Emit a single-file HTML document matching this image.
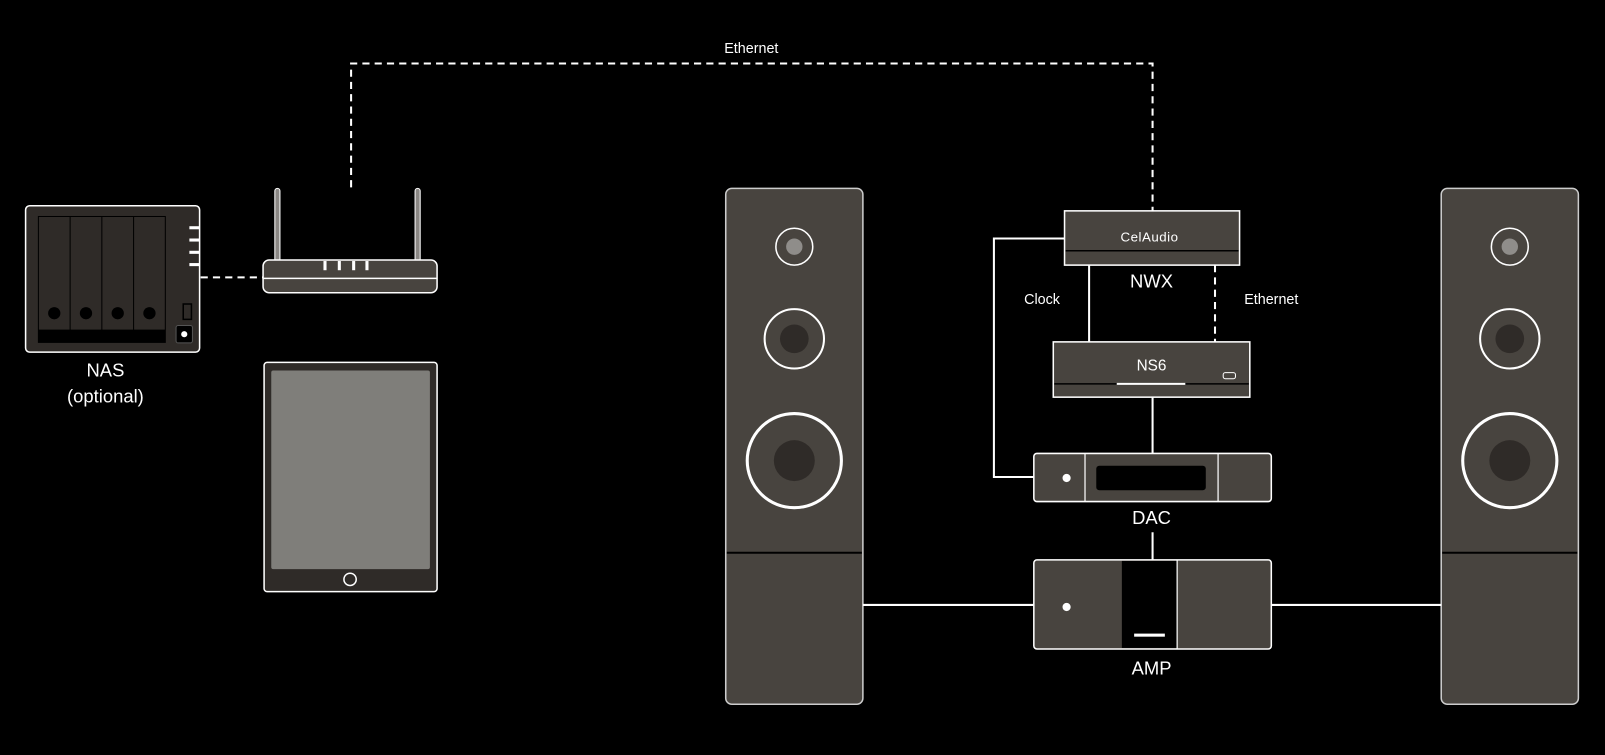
<!DOCTYPE html>
<html><head><meta charset="utf-8"><style>
html,body{margin:0;padding:0;background:#000;width:1605px;height:755px;overflow:hidden}
svg{display:block}
text{font-family:"Liberation Sans",sans-serif;fill:#fff}
</style></head><body>
<svg width="1605" height="755" viewBox="0 0 1568 737.6" xmlns="http://www.w3.org/2000/svg">
<rect width="1568" height="737.6" fill="#000"/>
<!-- Ethernet top dashed -->
<text x="734" y="52" font-size="14" text-anchor="middle">Ethernet</text>
<polyline points="343,183 343,62 1126,62 1126,206" fill="none" stroke="#fff" stroke-width="2" stroke-dasharray="7,5"/>
<!-- NAS to router -->
<line x1="196" y1="271" x2="257" y2="271" stroke="#fff" stroke-width="2" stroke-dasharray="7,5"/>
<!-- Router -->
<rect x="268.5" y="184" width="5" height="74" rx="2.5" fill="#8a8784" stroke="#fff" stroke-width="1"/>
<rect x="405.5" y="184" width="5" height="74" rx="2.5" fill="#8a8784" stroke="#fff" stroke-width="1"/>
<rect x="257" y="254" width="170" height="32" rx="6" fill="#48443f" stroke="#fff" stroke-width="1.5"/>
<line x1="257" y1="272" x2="427" y2="272" stroke="#fff" stroke-width="1.5"/>
<rect x="316" y="255" width="3" height="9" fill="#fff"/>
<rect x="330" y="255" width="3" height="9" fill="#fff"/>
<rect x="344" y="255" width="3" height="9" fill="#fff"/>
<rect x="357" y="255" width="3" height="9" fill="#fff"/>
<!-- NAS -->
<rect x="25" y="201" width="170" height="143" rx="4" fill="#2f2b28" stroke="#fff" stroke-width="1.5"/>
<rect x="37" y="211" width="125" height="124" fill="#000"/>
<rect x="38" y="212" width="30" height="110" fill="#2f2b28"/>
<rect x="69" y="212" width="30" height="110" fill="#2f2b28"/>
<rect x="100" y="212" width="30" height="110" fill="#2f2b28"/>
<rect x="131" y="212" width="30" height="110" fill="#2f2b28"/>
<circle cx="53" cy="306" r="6" fill="#000"/><circle cx="84" cy="306" r="6" fill="#000"/>
<circle cx="115" cy="306" r="6" fill="#000"/><circle cx="146" cy="306" r="6" fill="#000"/>
<rect x="185" y="221" width="10" height="3" fill="#fff"/><rect x="185" y="233" width="10" height="3" fill="#fff"/>
<rect x="185" y="245" width="10" height="3" fill="#fff"/><rect x="185" y="257" width="10" height="3" fill="#fff"/>
<rect x="179" y="297" width="8" height="15" fill="#2f2b28" stroke="#000" stroke-width="1.5"/>
<rect x="172" y="318" width="16" height="17" rx="2" fill="#000" stroke="#555" stroke-width="1"/>
<circle cx="180" cy="326.5" r="3" fill="#fff"/>
<text x="103" y="368" font-size="18" text-anchor="middle">NAS</text>
<text x="103" y="393" font-size="18" text-anchor="middle">(optional)</text>
<!-- Tablet -->
<rect x="258" y="354" width="169" height="224" rx="3" fill="#2f2b28" stroke="#fff" stroke-width="1.5"/>
<rect x="265" y="362" width="155" height="194" rx="2" fill="#7f7e7a"/>
<circle cx="342" cy="566" r="6" fill="none" stroke="#fff" stroke-width="1.5"/>
<!-- Speakers -->
<g id="spk">
<rect x="709" y="184" width="134" height="504" rx="6" fill="#48443f" stroke="#ccc" stroke-width="1.5"/>
<line x1="710" y1="540" x2="842" y2="540" stroke="#000" stroke-width="2"/>
<circle cx="776" cy="241" r="18" fill="none" stroke="#fff" stroke-width="1.5"/>
<circle cx="776" cy="241" r="8" fill="#8f8d8a"/>
<circle cx="776" cy="331" r="29" fill="none" stroke="#fff" stroke-width="2"/>
<circle cx="776" cy="331" r="14" fill="#2f2b28"/>
<circle cx="776" cy="450" r="46" fill="none" stroke="#fff" stroke-width="3"/>
<circle cx="776" cy="450" r="20" fill="#2f2b28"/>
</g>
<use href="#spk" transform="translate(699,0)"/>
<!-- speaker lines -->
<line x1="843" y1="591" x2="1010" y2="591" stroke="#fff" stroke-width="2"/>
<line x1="1242" y1="591" x2="1408" y2="591" stroke="#fff" stroke-width="2"/>
<!-- Clock -->
<polyline points="1040,233 971,233 971,466 1010,466" fill="none" stroke="#fff" stroke-width="2"/>
<text x="1018" y="297" font-size="14" text-anchor="middle">Clock</text>
<line x1="1064" y1="259" x2="1064" y2="334" stroke="#fff" stroke-width="2"/>
<line x1="1187" y1="259" x2="1187" y2="334" stroke="#fff" stroke-width="2" stroke-dasharray="7,5"/>
<text x="1242" y="297" font-size="14" text-anchor="middle">Ethernet</text>
<!-- NWX -->
<rect x="1040" y="206" width="171" height="53" fill="#48443f" stroke="#fff" stroke-width="1.5"/>
<line x1="1041" y1="245" x2="1210" y2="245" stroke="#000" stroke-width="1.5"/>
<text x="1123" y="236" font-size="13" text-anchor="middle" letter-spacing="0.5">CelAudio</text>
<text x="1125" y="281" font-size="18" text-anchor="middle">NWX</text>
<!-- NS6 -->
<rect x="1029" y="334" width="192" height="54" fill="#48443f" stroke="#fff" stroke-width="1.5"/>
<line x1="1030" y1="375" x2="1220" y2="375" stroke="#000" stroke-width="1.5"/>
<line x1="1091" y1="375" x2="1158" y2="375" stroke="#fff" stroke-width="2"/>
<text x="1125" y="362" font-size="15" text-anchor="middle">NS6</text>
<rect x="1195" y="364" width="12" height="6" rx="2" fill="none" stroke="#fff" stroke-width="1"/>
<line x1="1126" y1="388" x2="1126" y2="443" stroke="#fff" stroke-width="2"/>
<!-- DAC -->
<rect x="1010" y="443" width="232" height="47" rx="3" fill="#48443f" stroke="#fff" stroke-width="1.5"/>
<line x1="1060" y1="443" x2="1060" y2="490" stroke="#fff" stroke-width="1.2"/>
<line x1="1190" y1="443" x2="1190" y2="490" stroke="#fff" stroke-width="1.2"/>
<rect x="1071" y="455" width="107" height="24" rx="3" fill="#000"/>
<circle cx="1042" cy="467" r="4" fill="#fff"/>
<text x="1125" y="512" font-size="18" text-anchor="middle">DAC</text>
<line x1="1126" y1="520" x2="1126" y2="547" stroke="#fff" stroke-width="2"/>
<!-- AMP -->
<rect x="1010" y="547" width="232" height="87" rx="3" fill="#48443f" stroke="#fff" stroke-width="1.5"/>
<rect x="1096" y="548" width="54" height="85" fill="#000"/>
<line x1="1150" y1="547" x2="1150" y2="634" stroke="#fff" stroke-width="1.2"/>
<circle cx="1042" cy="593" r="4" fill="#fff"/>
<rect x="1108" y="619" width="30" height="3" fill="#fff"/>
<text x="1125" y="659" font-size="18" text-anchor="middle">AMP</text>
</svg>
</body></html>
